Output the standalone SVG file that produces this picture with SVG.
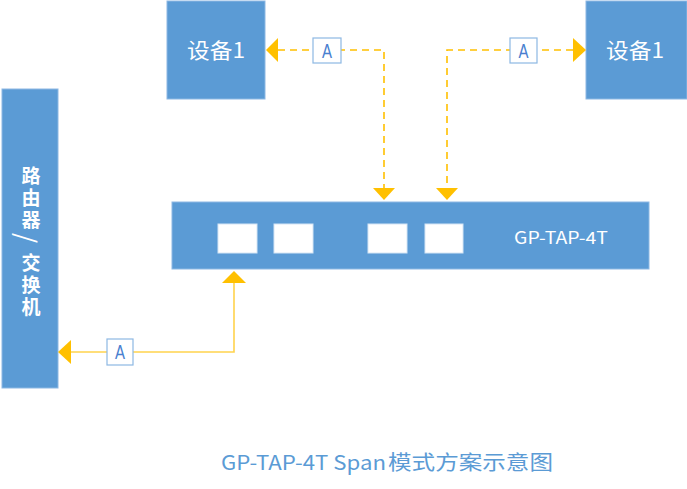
<svg xmlns="http://www.w3.org/2000/svg" width="687" height="489" viewBox="0 0 687 489">
<style>
.box{fill:#5B9BD5;stroke:#8DB8E3;stroke-width:1}
.port{fill:#FFFFFF;stroke:#D6E6F5;stroke-width:1}
.wt{fill:#FFFFFF;font-family:"Noto Sans CJK SC","Liberation Sans",sans-serif}
.rc{font-size:19px;font-weight:bold;text-anchor:middle}
.dash{fill:none;stroke:#FFC000;stroke-width:1.6;stroke-dasharray:7 5}
.solid{fill:none;stroke:#FFD34D;stroke-width:1.6}
.head{fill:#FFC000}
.lbl rect{fill:#FFFFFF;stroke:#8DB8E3;stroke-width:1.2}
.lbl text{fill:#4A7FCF;font-family:"Liberation Sans",sans-serif;font-size:20px;text-anchor:middle}
</style>
<g id="device1-left">
<rect class="box" x="167" y="1" width="98" height="98"/>
<text class="wt" x="187" y="58" font-size="21" textLength="58" lengthAdjust="spacingAndGlyphs">设备1</text>
</g>
<g id="device1-right">
<rect class="box" x="586" y="1" width="101" height="98"/>
<text class="wt" x="606" y="58" font-size="21" textLength="58" lengthAdjust="spacingAndGlyphs">设备1</text>
</g>
<g id="router">
<rect class="box" x="2" y="89" width="56" height="299"/>
<text class="wt rc" x="31" y="183">路</text>
<text class="wt rc" x="31" y="205">由</text>
<text class="wt rc" x="31" y="227">器</text>
<text class="wt" x="28" y="238" font-size="26" text-anchor="middle" dominant-baseline="central" transform="rotate(90 28 238)">/</text>
<text class="wt rc" x="31" y="270">交</text>
<text class="wt rc" x="31" y="292">换</text>
<text class="wt rc" x="31" y="314">机</text>
</g>
<g id="tap">
<rect class="box" x="172" y="202" width="477" height="67"/>
<rect class="port" x="218" y="224" width="39" height="29"/>
<rect class="port" x="274" y="224" width="39" height="29"/>
<rect class="port" x="368" y="224" width="39" height="29"/>
<rect class="port" x="425" y="224" width="38" height="29"/>
<text class="wt" x="514" y="244" font-size="17" textLength="94" lengthAdjust="spacingAndGlyphs">GP-TAP-4T</text>
</g>
<g id="connectors">
<polyline class="dash" points="278,50 384,50 384,188"/>
<polygon class="head" points="266,50 278,38 278,62"/>
<polygon class="head" points="384,200 373,188 395,188"/>
<polyline class="dash" points="573,50 447,50 447,188"/>
<polygon class="head" points="586,50 573,38 573,62"/>
<polygon class="head" points="447,200 436,188 458,188"/>
<polyline class="solid" points="71,352 234,352 234,283"/>
<polygon class="head" points="58,352 71,340 71,364"/>
<polygon class="head" points="234,271 222,283 246,283"/>
<g class="lbl"><rect x="313" y="38" width="28" height="25"/><text x="327" y="58" textLength="10" lengthAdjust="spacingAndGlyphs">A</text></g>
<g class="lbl"><rect x="510" y="38" width="27" height="25"/><text x="523.5" y="58" textLength="10" lengthAdjust="spacingAndGlyphs">A</text></g>
<g class="lbl"><rect x="107" y="339" width="26" height="26"/><text x="120" y="359" textLength="10" lengthAdjust="spacingAndGlyphs">A</text></g>
</g>
<text x="221" y="470" fill="#5B9BD5" font-family="Noto Sans CJK SC,Liberation Sans,sans-serif" font-size="20"><tspan x="221" textLength="165" lengthAdjust="spacingAndGlyphs">GP-TAP-4T Span</tspan><tspan x="388" textLength="165" lengthAdjust="spacingAndGlyphs">模式方案示意图</tspan></text>
</svg>
